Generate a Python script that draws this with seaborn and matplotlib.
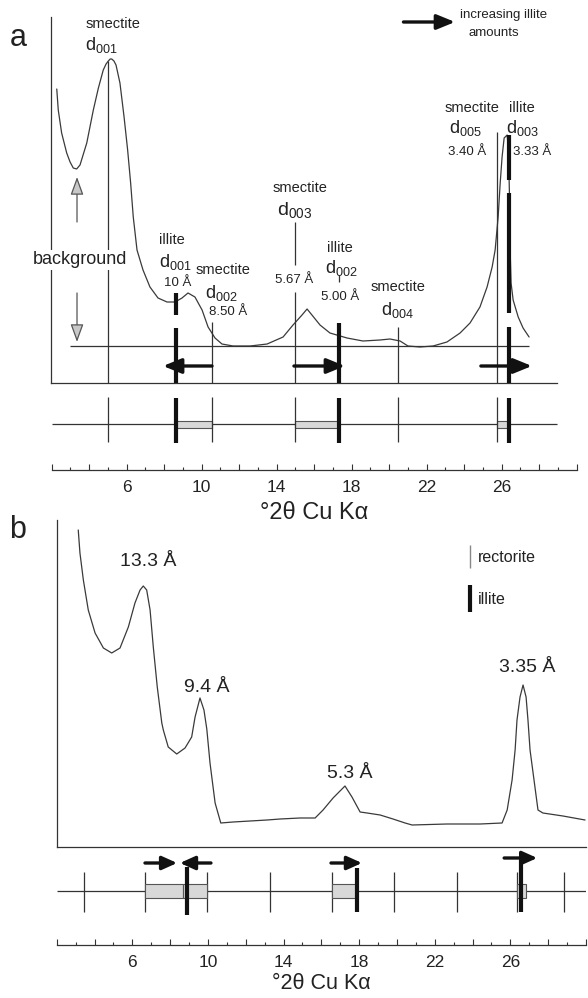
import matplotlib
matplotlib.use("Agg")
import matplotlib.pyplot as plt
import pandas as pd
import seaborn as sns
from matplotlib.patches import Rectangle
from matplotlib.ticker import MultipleLocator, FuncFormatter

# ---------------------------------------------------------------------------
# (a) smectite / illite mixed-layer pattern: °2θ and intensity (a.u.)
a_theta = [2.27, 2.35, 2.53, 2.80, 2.98, 3.15, 3.33, 3.51, 3.87, 4.22, 4.49,
           4.75, 4.90, 5.02, 5.12, 5.20, 5.32, 5.43, 5.64, 5.86, 6.05, 6.21,
           6.35, 6.55, 6.87, 7.24, 7.67, 8.15, 8.58, 8.95, 9.27, 9.64, 10.02,
           10.34, 10.71, 11.08, 11.67, 12.58, 13.49, 14.34, 14.87, 15.35,
           15.62, 15.88, 16.31, 16.84, 17.75, 18.60, 19.51, 20.04, 20.58,
           21.00, 21.64, 22.34, 23.08, 23.78, 24.31, 24.84, 25.22, 25.49,
           25.65, 25.81, 25.92, 26.02, 26.13, 26.29, 26.36, 26.42, 26.45,
           26.50, 26.61, 26.88, 27.14, 27.46]
a_counts = [294, 273, 250, 230, 221, 215, 214, 218, 240, 273, 295,
            313, 319, 322, 324, 324, 322, 318, 300, 266, 233, 200,
            166, 133, 113, 96, 85, 81, 81, 85, 90, 86, 73,
            56, 45, 39, 37, 37, 39, 46, 58, 68,
            74, 68, 58, 50, 45, 42, 43, 44, 42,
            37, 36, 37, 41, 50, 60, 76, 96, 116,
            133, 166, 200, 226, 245, 248, 233, 183, 133,
            100, 83, 66, 55, 46]
a_background = 37
a_background_span = [2.98, 27.46]

smectite_theta = [5.02, 10.55, 14.97, 20.47, 25.75]
illite_theta = [8.63, 17.32, 26.39]

# shift of each reflection with increasing illite content (from, to)
a_shift_from = [10.55, 14.92, 24.89]
a_shift_to = [7.94, 17.64, 27.61]

# ---------------------------------------------------------------------------
# (b) rectorite pattern
b_theta = [3.14, 3.23, 3.41, 3.67, 4.03, 4.47, 4.91, 5.35, 5.79, 6.14, 6.41,
           6.58, 6.76, 6.94, 7.11, 7.32, 7.56, 7.64, 7.90, 8.35, 8.79, 9.14,
           9.32, 9.58, 9.79, 9.94, 10.11, 10.38, 10.68, 11.33, 13.13, 13.82,
           14.87, 15.67, 16.09, 16.62, 17.25, 17.62, 18.05, 18.42, 19.11,
           19.79, 20.43, 20.80, 22.65, 24.40, 25.56, 25.83, 26.09, 26.25,
           26.35, 26.51, 26.67, 26.83, 26.93, 27.04, 27.25, 27.46, 27.72,
           28.78, 29.95]
b_counts = [317, 294, 267, 237, 214, 199, 194, 199, 220, 244, 257,
            261, 257, 237, 200, 160, 124, 117, 100, 93, 99, 110,
            130, 149, 137, 118, 84, 44, 24, 25, 27, 28,
            29, 29, 37, 49, 61, 50, 35, 34, 32,
            28, 24, 22, 23, 23, 24, 37, 67, 97,
            127, 150, 162, 150, 127, 97, 67, 37, 34,
            31, 27]

b_peak_theta = [6.83, 9.96, 17.52, 26.89]
b_peak_label_y = [285, 160, 74, 180]
b_peak_labels = ["13.3 Å", "9.4 Å", "5.3 Å", "3.35 Å"]

rectorite_theta = [3.44, 6.67, 9.95, 13.29, 16.57, 19.85, 23.19, 26.35, 28.84]
b_illite_theta = [8.89, 17.89, 26.57]
b_box_lo = [6.67, 8.70, 16.57, 26.35]
b_box_hi = [8.70, 9.95, 17.89, 26.80]
b_shift_from = [6.67, 10.16, 16.51, 25.67]
b_shift_to = [8.37, 8.52, 18.15, 27.42]

tick_labels = [6, 10, 14, 18, 22, 26]

# ---------------------------------------------------------------------------
sns.set_theme(style="white")
plt.rcParams["font.family"] = ["Liberation Sans", "DejaVu Sans"]
plt.rcParams["mathtext.fontset"] = "custom"
plt.rcParams["mathtext.rm"] = "Liberation Sans"

INK = "#333333"
THICK = "#111111"
BOX = "#d8d8d8"

W, H = 588, 998
fig = plt.figure(figsize=(W / 100, H / 100), dpi=100)


def add_px_axes(x0, x1, y_top, y_bot):
    return fig.add_axes([x0 / W, 1 - y_bot / H, (x1 - x0) / W, (y_bot - y_top) / H])


def bare(ax):
    ax.set_xticks([])
    ax.set_yticks([])
    ax.patch.set_alpha(0)
    for s in ax.spines.values():
        s.set_visible(False)


def arrow(ax, x0, x1, y, lw=2.4, ms=10, hl=1.1, hw=0.45, color=THICK):
    ax.annotate("", xy=(x1, y), xytext=(x0, y),
                arrowprops=dict(arrowstyle=f"-|>,head_length={hl},head_width={hw}",
                                lw=lw, color=color, shrinkA=0, shrinkB=0,
                                mutation_scale=ms),
                annotation_clip=False)


def dlabel(sub):
    return r"$\mathrm{d_{" + sub + "}}$"


def twotheta_axis(ax, labelpad, title_size):
    ax.set_xlim(2, 30)
    ax.set_ylim(0, 1)
    ax.patch.set_alpha(0)
    for s in ["top", "left", "right"]:
        ax.spines[s].set_visible(False)
    ax.spines["bottom"].set_color(INK)
    ax.spines["bottom"].set_linewidth(0.9)
    ax.set_yticks([])
    ax.xaxis.set_major_locator(MultipleLocator(2))
    ax.xaxis.set_minor_locator(MultipleLocator(1))
    ax.xaxis.set_major_formatter(
        FuncFormatter(lambda v, p: f"{int(round(v))}" if int(round(v)) in tick_labels else ""))
    ax.tick_params(axis="x", which="both", bottom=True, top=False)
    ax.tick_params(axis="x", which="major", direction="in", length=4.5, width=0.8,
                   color=INK, labelsize=12.5, pad=7, labelcolor="#222")
    ax.tick_params(axis="x", which="minor", direction="in", length=2, width=0.8, color=INK)
    ax.set_xlabel("°2θ Cu Kα", fontsize=title_size, labelpad=labelpad, color="#222")


# ============================ panel a =======================================
a_left = 2 - 1.2 / 18.75
ax_a = add_px_axes(50.5, 576.7, 17, 383)
ax_a.set_xlim(a_left, 30)
ax_a.set_ylim(0, 366)
ax_a.set_xticks([])
ax_a.set_yticks([])
ax_a.patch.set_alpha(0)
ax_a.spines["top"].set_visible(False)
ax_a.spines["right"].set_visible(False)
for s in ["left", "bottom"]:
    ax_a.spines[s].set_color(INK)
    ax_a.spines[s].set_linewidth(0.9)
ax_a.spines["bottom"].set_bounds(a_left, 28.97)

sns.lineplot(data=pd.DataFrame({"theta": a_theta, "counts": a_counts}),
             x="theta", y="counts", sort=False, estimator=None,
             color="#3a3a3a", lw=0.9, ax=ax_a)
ax_a.set_xlabel("")
ax_a.set_ylabel("")
ax_a.hlines(a_background, *a_background_span, color=INK, lw=0.9)

# smectite reflections (thin) and illite reflections (thick)
smectite_segments = [[(0, 322)], [(0, 61)], [(0, 91), (118, 161)], [(0, 56)], [(0, 251)]]
illite_segments = [[(0, 55), (68, 90)], [(0, 60)], [(0, 56), (70, 190), (203, 248)]]
for t, segs in zip(smectite_theta, smectite_segments):
    for lo, hi in segs:
        ax_a.vlines(t, lo, hi, color=INK, lw=0.9)
for t, segs in zip(illite_theta, illite_segments):
    for lo, hi in segs:
        ax_a.vlines(t, lo, hi, color=THICK, lw=3.0, zorder=3)
ax_a.vlines(illite_theta[1], 101, 108, color=INK, lw=0.9)

for x0, x1 in zip(a_shift_from, a_shift_to):
    arrow(ax_a, x0, x1, 17)

# background arrows
bg_kw = dict(arrowstyle="-|>,head_length=1.1,head_width=0.4", lw=0.9,
             ec="#555555", fc="#c8c8c8", shrinkA=0, shrinkB=0, mutation_scale=10)
ax_a.annotate("", xy=(3.35, 206), xytext=(3.35, 161), arrowprops=bg_kw)
ax_a.annotate("", xy=(3.35, 41), xytext=(3.35, 90), arrowprops=bg_kw)
ax_a.text(3.51, 123, "background", ha="center", va="center", fontsize=13, color="#222",
          bbox=dict(fc="white", ec="none", pad=1), zorder=4)

SM, DL, AL = 10.5, 13, 9.5
txt = dict(ha="center", va="center", color="#222")
ax_a.text(3.78, 359, "smectite", ha="left", va="center", fontsize=SM, color="#222")
ax_a.text(3.78, 338, dlabel("001"), ha="left", va="center", fontsize=DL, color="#222")
ax_a.text(8.42, 143, "illite", fontsize=SM, **txt)
ax_a.text(8.58, 121, dlabel("001"), fontsize=DL, **txt)
ax_a.text(8.74, 100, "10 Å", fontsize=AL, **txt)
ax_a.text(11.14, 113, "smectite", fontsize=SM, **txt)
ax_a.text(11.03, 90, dlabel("002"), fontsize=DL, **txt)
ax_a.text(11.40, 71, "8.50 Å", fontsize=AL, **txt)
ax_a.text(15.24, 195, "smectite", fontsize=SM, **txt)
ax_a.text(14.98, 173, dlabel("003"), fontsize=DL + 1, **txt)
ax_a.text(14.92, 103, "5.67 Å", fontsize=AL, **txt)
ax_a.text(17.38, 135, "illite", fontsize=SM, **txt)
ax_a.text(17.43, 115, dlabel("002"), fontsize=DL, **txt)
ax_a.text(17.38, 86, "5.00 Å", fontsize=AL, **txt)
ax_a.text(20.47, 96, "smectite", fontsize=SM, **txt)
ax_a.text(20.42, 73, dlabel("004"), fontsize=DL, **txt)
ax_a.text(24.42, 275, "smectite", fontsize=SM, **txt)
ax_a.text(24.05, 255, dlabel("005"), fontsize=DL, **txt)
ax_a.text(24.15, 231, "3.40 Å", fontsize=AL, **txt)
ax_a.text(27.08, 275, "illite", fontsize=SM, **txt)
ax_a.text(27.08, 255, dlabel("003"), fontsize=DL, **txt)
ax_a.text(27.62, 231, "3.33 Å", fontsize=AL, **txt)

# key: direction of increasing illite
arrow(ax_a, 20.76, 23.51, 361, lw=2.4)
ax_a.text(23.78, 368, "increasing illite", ha="left", va="center", fontsize=9.5, color="#222")
ax_a.text(24.21, 350, "amounts", ha="left", va="center", fontsize=9.5, color="#222")

# stick pattern
ax_as = add_px_axes(50.5, 576.7, 392, 448)
ax_as.set_xlim(a_left, 30)
ax_as.set_ylim(-24, 32)
bare(ax_as)
ax_as.hlines(0, 2.02, 28.97, color=INK, lw=0.9)
for lo, hi in zip([illite_theta[0], smectite_theta[2], smectite_theta[4]],
                  [smectite_theta[1], illite_theta[1], illite_theta[2]]):
    ax_as.add_patch(Rectangle((lo, -3.5), hi - lo, 7, fc=BOX, ec="#555555", lw=0.8, zorder=2))
ax_as.vlines(smectite_theta, -18, 27, color=INK, lw=0.9, zorder=2)
ax_as.vlines(illite_theta, -19, 26, color=THICK, lw=3.0, zorder=3)

ax_ta = add_px_axes(51.7, 576.7, 469, 470)
twotheta_axis(ax_ta, labelpad=5, title_size=17)

fig.text(18 / W, 1 - 38 / H, "a", fontsize=22, ha="center", va="center", color="#222")

# ============================ panel b =======================================
ax_b = add_px_axes(56.7, 586, 520, 847)
ax_b.set_xlim(2, 30)
ax_b.set_ylim(0, 327)
ax_b.set_xticks([])
ax_b.set_yticks([])
ax_b.patch.set_alpha(0)
ax_b.spines["top"].set_visible(False)
ax_b.spines["right"].set_visible(False)
for s in ["left", "bottom"]:
    ax_b.spines[s].set_color(INK)
    ax_b.spines[s].set_linewidth(0.9)

sns.lineplot(data=pd.DataFrame({"theta": b_theta, "counts": b_counts}),
             x="theta", y="counts", sort=False, estimator=None,
             color="#3a3a3a", lw=0.9, ax=ax_b)
ax_b.set_xlabel("")
ax_b.set_ylabel("")
for t, y, lab in zip(b_peak_theta, b_peak_label_y, b_peak_labels):
    ax_b.text(t, y, lab, fontsize=14, **txt)

ax_b.vlines(23.87, 279, 302, color="#888888", lw=1.0)
ax_b.text(24.30, 289, "rectorite", ha="left", va="center", fontsize=11.5, color="#222")
ax_b.vlines(23.87, 235, 262, color=THICK, lw=3.0)
ax_b.text(24.30, 247, "illite", ha="left", va="center", fontsize=11.5, color="#222")

ax_bs = add_px_axes(56.7, 586, 850, 925)
ax_bs.set_xlim(2, 30)
ax_bs.set_ylim(-34, 41)
bare(ax_bs)
ax_bs.hlines(0, 2.0, 30, color=INK, lw=0.9)
for lo, hi in zip(b_box_lo, b_box_hi):
    ax_bs.add_patch(Rectangle((lo, -7), hi - lo, 14, fc=BOX, ec="#555555", lw=0.8, zorder=2))
ax_bs.vlines(rectorite_theta, -21, 19, color=INK, lw=0.9, zorder=1)
for t, (lo, hi) in zip(b_illite_theta, [(-24, 24), (-21, 23), (-21, 31)]):
    ax_bs.vlines(t, lo, hi, color=THICK, lw=3.0, zorder=3)
for x0, x1, y in zip(b_shift_from, b_shift_to, [28, 28, 28, 33]):
    arrow(ax_bs, x0, x1, y, lw=2.4, ms=9, hl=1.0, hw=0.45)

ax_tb = add_px_axes(56.7, 586, 944, 945)
twotheta_axis(ax_tb, labelpad=2.5, title_size=15.5)

fig.text(18 / W, 1 - 530 / H, "b", fontsize=22, ha="center", va="center", color="#222")

fig.savefig("out.png", dpi=100)
